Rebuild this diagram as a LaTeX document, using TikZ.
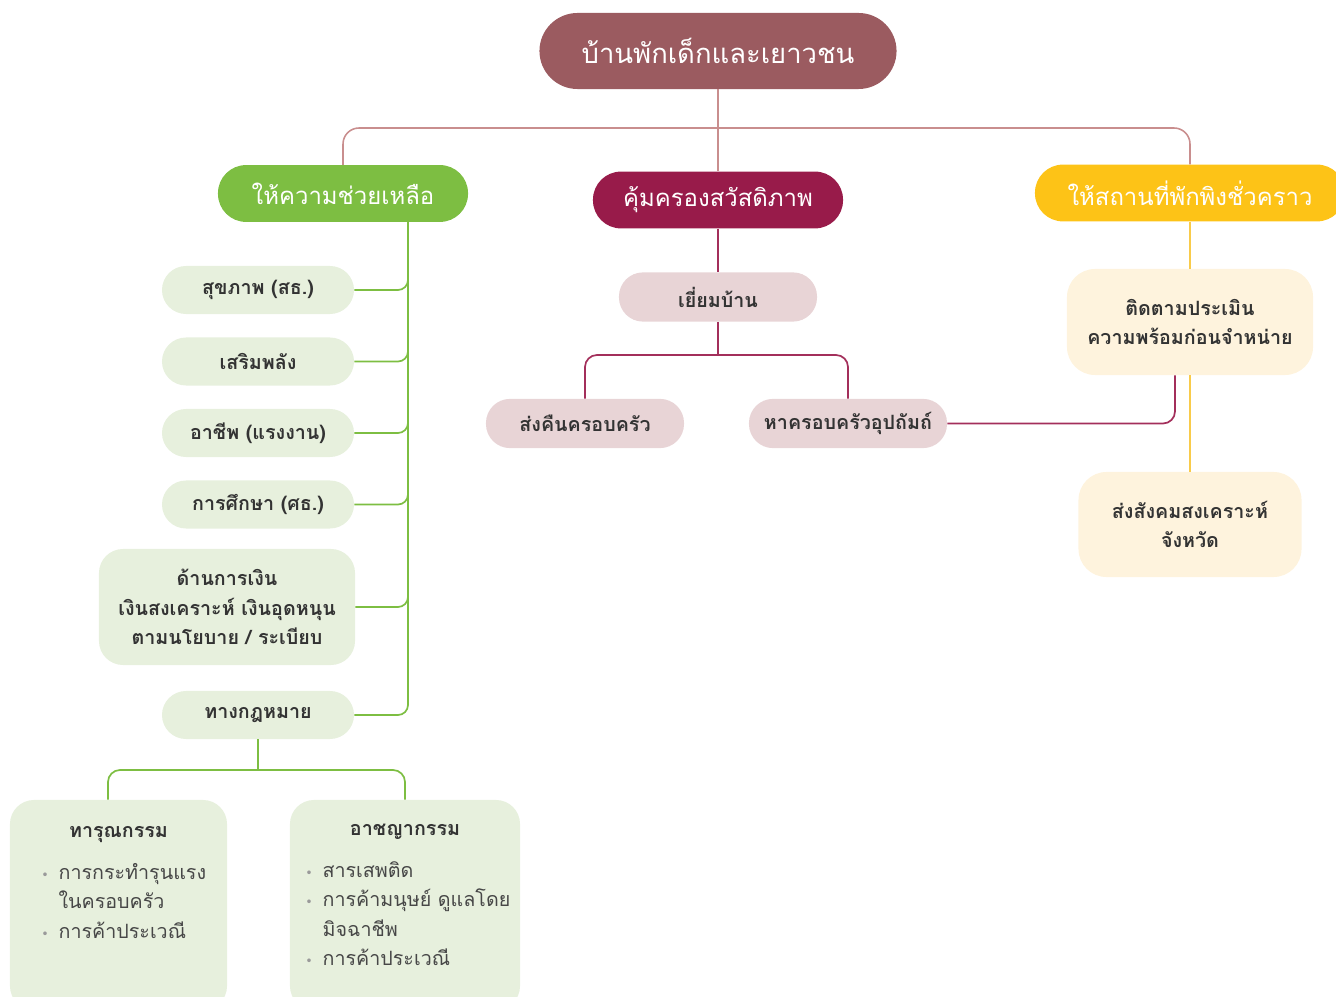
\documentclass[tikz,border=0pt]{standalone}
\usepackage{fontspec}
\usepackage{tikz}
\usetikzlibrary{positioning}

\newfontfamily\thaifont[Script=Thai]{Loma}
\newfontfamily\dotfont{DejaVu Sans}

\definecolor{rootc}{HTML}{9B5B60}
\definecolor{toplc}{HTML}{C98E8E}
\definecolor{greenc}{HTML}{7DBE42}
\definecolor{lgreenc}{HTML}{E7F0DD}
\definecolor{magc}{HTML}{981B4A}
\definecolor{maglc}{HTML}{A32F5B}
\definecolor{lpinkc}{HTML}{E8D4D6}
\definecolor{yelc}{HTML}{FDC317}
\definecolor{yellc}{HTML}{F9CB4A}
\definecolor{creamc}{HTML}{FEF3DD}
\definecolor{txtc}{HTML}{333333}
\definecolor{dotc}{HTML}{9A9A9A}

\newcommand{\bl}{{\dotfont\color{dotc}\small •}}

\begin{document}
\begin{tikzpicture}[x=0.025cm, y=-0.025cm,
    every node/.style={font=\thaifont, text=txtc},
    hd/.style={rectangle, rounded corners=0.7cm, minimum width=6.25cm,
               minimum height=1.42cm, inner sep=0pt, text=white,
               font=\thaifont\fontsize{17}{20}\selectfont},
    body/.style={font=\thaifont\bfseries\fontsize{14}{21}\selectfont, align=center},
    gpill/.style={body, rectangle, fill=lgreenc, rounded corners=0.6cm,
                  minimum width=4.8cm, minimum height=1.2cm, inner sep=0pt},
    gbox/.style={body, rectangle, fill=lgreenc, rounded corners=0.6cm, inner sep=0pt},
    ppill/.style={body, rectangle, fill=lpinkc, rounded corners=0.6cm,
                  minimum width=4.95cm, minimum height=1.23cm, inner sep=0pt},
    ybox/.style={body, rectangle, fill=creamc, rounded corners=0.7cm, inner sep=0pt},
    lst/.style={font=\thaifont\fontsize{14}{21}\selectfont, text=txtc!90, inner sep=0pt},
    topln/.style={draw=toplc, line width=1.1pt},
    gln/.style={draw=greenc, line width=1.2pt},
    mln/.style={draw=maglc, line width=1.2pt},
    yln/.style={draw=yellc, line width=1.2pt},
  ]
  \useasboundingbox (0,0) rectangle (1336,997);

  % top level
  \node[hd, fill=rootc, minimum width=8.925cm, minimum height=1.9cm, rounded corners=0.95cm,
        font=\thaifont\fontsize{19.5}{24}\selectfont] (home) at (718,51) {บ้านพักเด็กและเยาวชน};
  \node[hd, fill=greenc] (help) at (343,193.5) {ให้ความช่วยเหลือ};
  \node[hd, fill=magc] (protect) at (718,200) {คุ้มครองสวัสดิภาพ};
  \node[hd, fill=yelc, minimum width=7.75cm] (shelter) at (1190,193) {ให้สถานที่พักพิงชั่วคราว};

  % help branch
  \node[gpill] (health) at (258,290) {สุขภาพ (สธ.)};
  \node[gpill] (empower) at (258,361.5) {เสริมพลัง};
  \node[gpill] (career) at (258,433) {อาชีพ (แรงงาน)};
  \node[gpill] (edu) at (258,504.5) {การศึกษา (ศธ.)};
  \node[gbox, minimum width=6.4cm, minimum height=2.9cm] (money) at (227,607)
    {ด้านการเงิน\\เงินสงเคราะห์ เงินอุดหนุน\\ตามนโยบาย / ระเบียบ};
  \node[gpill] (law) at (258,715) {ทางกฎหมาย};
  \node[gbox, minimum width=5.425cm, minimum height=5.25cm] (abuse) at (118.5,905) {};
  \node[gbox, minimum width=5.75cm, minimum height=5.25cm] (crime) at (405,905) {};
  \node[body] (abuset) at (118.5,835) {ทารุณกรรม};
  \node[lst, anchor=base west] (abusel) at (41,879)
    {\begin{tabular}[t]{@{}l@{\hspace{7pt}}l@{}}
      \bl & การกระทำรุนแรง\\
          & ในครอบครัว\\
      \bl & การค้าประเวณี
    \end{tabular}};
  \node[body] (crimet) at (405,832) {อาชญากรรม};
  \node[lst, anchor=base west] (crimel) at (305,877)
    {\begin{tabular}[t]{@{}l@{\hspace{7pt}}l@{}}
      \bl & สารเสพติด\\
      \bl & การค้ามนุษย์ ดูแลโดย\\
          & มิจฉาชีพ\\
      \bl & การค้าประเวณี
    \end{tabular}};

  % protect branch
  \node[ppill] (visit) at (718,297) {เยี่ยมบ้าน};
  \node[ppill] (return) at (585,423.5) {ส่งคืนครอบครัว};
  \node[ppill] (foster) at (848,423.5) {หาครอบครัวอุปถัมถ์};

  % shelter branch
  \node[ybox, minimum width=6.15cm, minimum height=2.65cm] (follow) at (1190,322)
    {ติดตามประเมิน\\ความพร้อมก่อนจำหน่าย};
  \node[ybox, minimum width=5.575cm, minimum height=2.625cm] (social) at (1190,524.5)
    {ส่งสังคมสงเคราะห์\\จังหวัด};

  \coordinate (bus) at (718,128);
  \coordinate (gx) at (408,0);
  \coordinate (ax) at (108,0);
  \coordinate (lbus) at (258,770);
  \coordinate (mbus) at (718,355);
  \coordinate (fx) at (1175,0);

  \draw[topln] (home) -- (protect);
  \draw[topln, rounded corners=0.4cm] (help.north) |- (bus) -| (shelter.north);

  \foreach \n in {health,empower,career,edu,money,law}
    \draw[gln, rounded corners=0.25cm] (help.south -| gx) |- (\n.east);
  \draw[gln] (law.south) -- (law.south |- lbus);
  \draw[gln, rounded corners=0.3cm] (abuse.north -| ax) |- (lbus) -| (crime.north);

  \draw[mln] (protect) -- (visit);
  \draw[mln] (visit.south) -- (visit.south |- mbus);
  \draw[mln, rounded corners=0.3cm] (return.north) |- (mbus) -| (foster.north);
  \draw[mln, rounded corners=0.3cm] (foster.east) -| (follow.south -| fx);

  \draw[yln] (shelter) -- (follow);
  \draw[yln] (follow) -- (social);
\end{tikzpicture}
\end{document}
